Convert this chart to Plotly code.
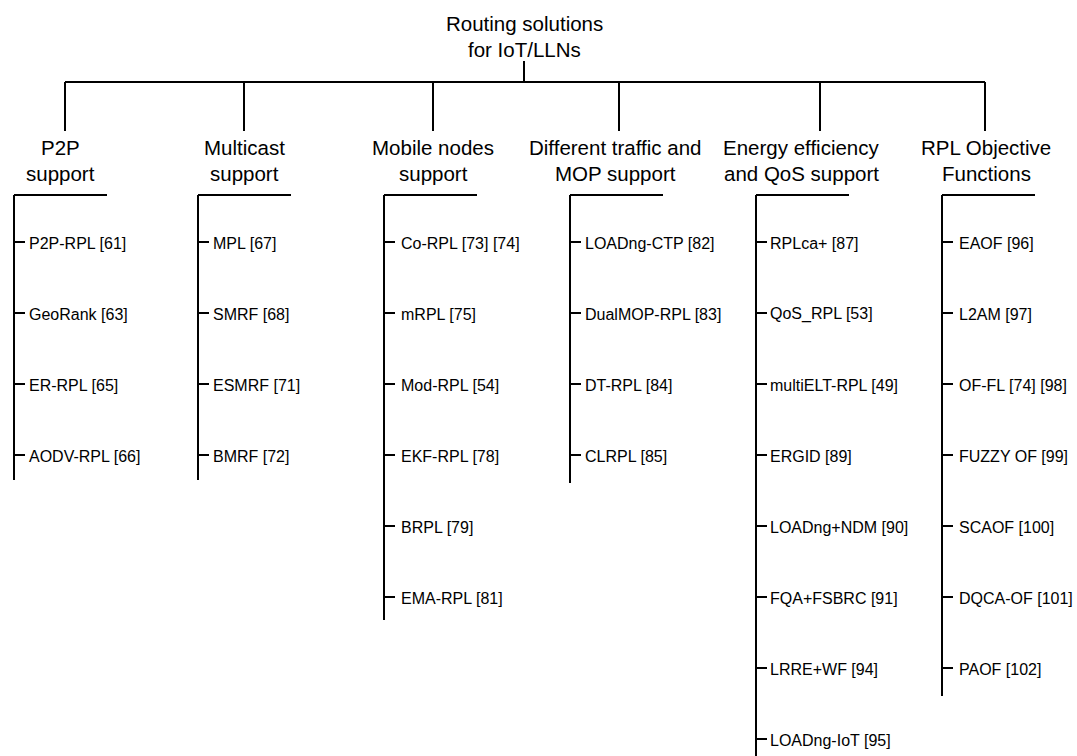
import plotly.graph_objects as go

# ---- data ----
root_label = "Routing solutions\nfor IoT/LLNs"
categories = [
    "P2P\nsupport",
    "Multicast\nsupport",
    "Mobile nodes\nsupport",
    "Different traffic and\nMOP support",
    "Energy efficiency\nand QoS support",
    "RPL Objective\nFunctions",
]
p2p_items = ["P2P-RPL [61]", "GeoRank [63]", "ER-RPL [65]", "AODV-RPL [66]"]
multicast_items = ["MPL [67]", "SMRF [68]", "ESMRF [71]", "BMRF [72]"]
mobile_items = ["Co-RPL [73] [74]", "mRPL [75]", "Mod-RPL [54]", "EKF-RPL [78]",
                "BRPL [79]", "EMA-RPL [81]"]
traffic_items = ["LOADng-CTP [82]", "DualMOP-RPL [83]", "DT-RPL [84]", "CLRPL [85]"]
energy_items = ["RPLca+ [87]", "QoS_RPL [53]", "multiELT-RPL [49]", "ERGID [89]",
                "LOADng+NDM [90]", "FQA+FSBRC [91]", "LRRE+WF [94]", "LOADng-IoT [95]"]
of_items = ["EAOF [96]", "L2AM [97]", "OF-FL [74] [98]", "FUZZY OF [99]",
            "SCAOF [100]", "DQCA-OF [101]", "PAOF [102]"]
children = [p2p_items, multicast_items, mobile_items, traffic_items, energy_items, of_items]

# ---- layout (pixel positions) ----
W, H = 1077, 756
root_x = 524
title_y = [23, 49]
stem_top, bus_y, drop_bottom = 61, 82, 131
drop_x = [65, 244, 433, 619, 820, 985]
label_x = [60, 244, 433, 615, 801, 986]
label_y = [147, 173]
bracket_x = [14, 198, 384, 570, 756, 942]
bracket_w = 93
bracket_top = 195
item_y0, item_dy = 242, 71
tick_len = 11
text_off = [13, 13, 15, 13, 12, 15]
tail = [25, 25, 23, 28, 40, 28]

LINE = dict(color="#000000", width=2)
HEAD_FONT = dict(family="Liberation Sans, Arial", size=20.5, color="#000000")
ITEM_FONT = dict(family="Liberation Sans, Arial", size=16, color="#000000")

shapes = []
annotations = []

def line(x0, y0, x1, y1):
    shapes.append(dict(type="line", xref="x", yref="y", x0=x0, y0=y0, x1=x1, y1=y1,
                       line=LINE, layer="above"))

def text(x, y, s, font, anchor="center"):
    annotations.append(dict(x=x, y=y, xref="x", yref="y", text=s, showarrow=False,
                            font=font, xanchor=anchor, yanchor="middle"))

for ln, yy in zip(root_label.split("\n"), title_y):
    text(root_x, yy, ln, HEAD_FONT)
line(root_x, stem_top, root_x, bus_y)
line(drop_x[0], bus_y, drop_x[-1], bus_y)

for i, (cat, items) in enumerate(zip(categories, children)):
    line(drop_x[i], bus_y, drop_x[i], drop_bottom)
    for ln, yy in zip(cat.split("\n"), label_y):
        text(label_x[i], yy, ln, HEAD_FONT)
    bx = bracket_x[i]
    line(bx, bracket_top, bx + bracket_w, bracket_top)
    last_y = item_y0 + item_dy * (len(items) - 1)
    line(bx, bracket_top, bx, min(last_y + tail[i], H + 5))
    for j, it in enumerate(items):
        yy = item_y0 + item_dy * j
        line(bx, yy, bx + tick_len, yy)
        text(bx + text_off[i], yy + 1, it, ITEM_FONT, anchor="left")

fig = go.Figure()
fig.add_trace(go.Scatter(x=[0, W], y=[0, H], mode="markers",
                         marker=dict(opacity=0), hoverinfo="skip", showlegend=False))
fig.update_layout(
    width=W, height=H, margin=dict(l=0, r=0, t=0, b=0),
    paper_bgcolor="white", plot_bgcolor="white",
    xaxis=dict(range=[0, W], visible=False, fixedrange=True),
    yaxis=dict(range=[H, 0], visible=False, fixedrange=True),
    shapes=shapes, annotations=annotations, showlegend=False,
)
fig.write_html("out.html", config={"displayModeBar": False},
               post_script="document.body.style.margin='0';document.body.style.overflow='hidden';")
